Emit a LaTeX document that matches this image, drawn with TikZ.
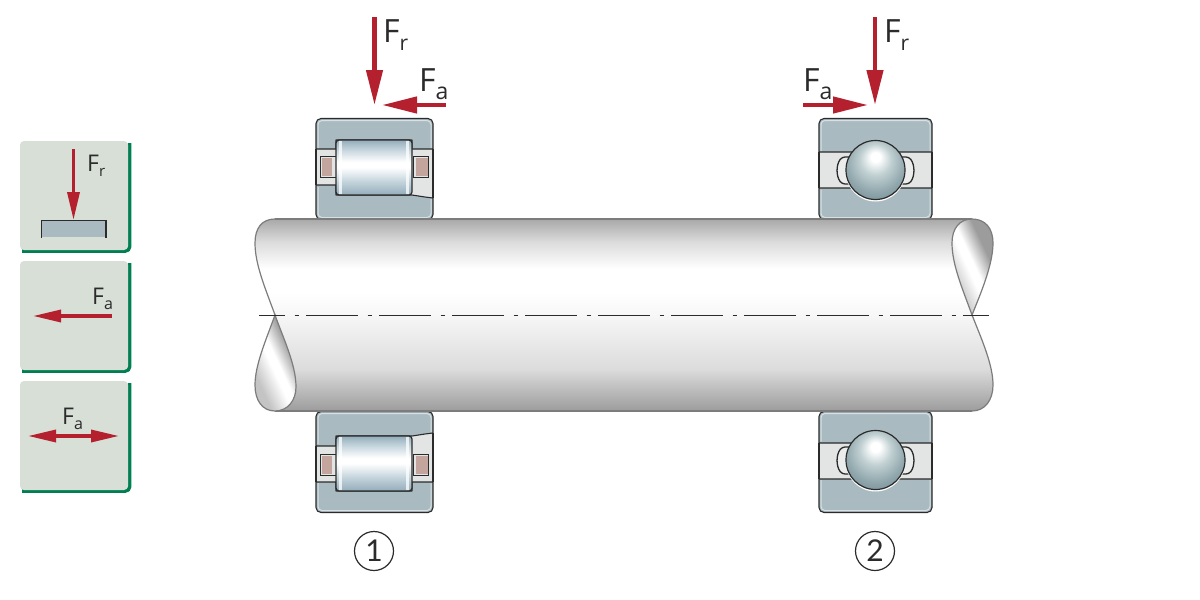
\documentclass[tikz,border=0pt]{standalone}
\usepackage{fontspec}
\setmainfont{Open Sans}
\newfontfamily\digitfont{Lato}
\usetikzlibrary{arrows.meta}
\definecolor{ringc}{HTML}{A9BBC1}
\definecolor{gapc}{HTML}{E3E4E4}
\definecolor{panelc}{HTML}{D7DFD7}
\definecolor{greenc}{HTML}{007F52}
\definecolor{redc}{HTML}{B4202E}
\definecolor{cagec}{HTML}{C4A59D}
\definecolor{inkc}{HTML}{2B2B2B}
\definecolor{shaftedge}{HTML}{7C7C7C}
\definecolor{rolA}{HTML}{93ADBA}
\definecolor{rolB}{HTML}{C7D6DE}
\definecolor{ballA}{HTML}{C2D1D3}
\definecolor{ballB}{HTML}{8FA6AC}
\definecolor{ballC}{HTML}{71878E}
\definecolor{gA}{HTML}{A8A8A8}
\definecolor{gB}{HTML}{DCDCDC}
\definecolor{gC}{HTML}{F7F7F7}
\definecolor{gD}{HTML}{9C9C9C}
\definecolor{gE}{HTML}{C4C4C4}
\pgfdeclareverticalshading{shaftshade}{100bp}{
  color(0bp)=(gD); color(25bp)=(gD);
  color(36bp)=(gB); color(50bp)=(gC); color(56bp)=(white); color(62bp)=(white);
  color(69bp)=(gB);
  color(75bp)=(gA); color(100bp)=(gA)}
\pgfdeclareverticalshading{rollershade}{100bp}{
  color(0bp)=(rolA); color(25bp)=(rolA);
  color(38bp)=(rolB); color(50bp)=(white); color(55bp)=(white);
  color(66bp)=(rolB);
  color(75bp)=(rolA); color(100bp)=(rolA)}
\pgfdeclareradialshading{ballshade}{\pgfpoint{0bp}{12bp}}{
  color(0bp)=(white); color(4bp)=(white); color(13bp)=(ballA);
  color(25bp)=(ballB); color(36bp)=(ballC); color(50bp)=(ballC)}
\pgfdeclarehorizontalshading{tearshade}{100bp}{
  color(0bp)=(gE); color(30bp)=(gE); color(46bp)=(white); color(52bp)=(white); color(66bp)=(gD); color(100bp)=(gD)}
\tikzset{
  x=1pt,y=-1pt,
  ringstyle/.style={fill=ringc,draw=inkc,line width=1.1pt,line join=round},
  edgeline/.style={draw=inkc,line width=1.1pt},
  redarrow/.style={draw=redc,line width=4.4pt,-{Triangle[length=35pt,width=16pt]}},
  smallarrow/.style={draw=redc,line width=3.4pt,-{Triangle[length=28pt,width=12pt]}},
  smallboth/.style={draw=redc,line width=3.4pt,{Triangle[length=28pt,width=12pt]}-{Triangle[length=28pt,width=12pt]}},
  bigtext/.style={anchor=base west,inner sep=0pt,text=inkc,font=\fontsize{32}{32}\selectfont},
  smalltext/.style={anchor=base west,inner sep=0pt,text=inkc,font=\fontsize{23}{23}\selectfont},
  numcircle/.style={circle,draw=inkc,line width=1.2pt,minimum size=39pt,inner sep=0pt,text=inkc,font=\digitfont\fontsize{30}{30}\selectfont},
  panelface/.style={fill=panelc,rounded corners=4pt},
  panelgreen/.style={draw=greenc,line width=3.5pt,rounded corners=4pt},
  shaftline/.style={draw=shaftedge,line width=1.2pt}
}
\newcommand{\subRb}[1]{\raisebox{-0.25em}{\fontsize{#1}{#1}\selectfont r}}
\newcommand{\subAb}[1]{\raisebox{-0.25em}{\fontsize{#1}{#1}\selectfont a}}
\newcommand{\rollerrings}{%
  \fill[gapc] (316,145) rectangle (433,200);
  \path[ringstyle] (316,149) -- (316,124) [rounded corners=5pt] -- (316,118.5) -- (433,118.5) [sharp corners] -- (433,149) -- (412,149) -- (412,140) -- (336,140) -- (336,149) -- cycle;
  \path[ringstyle] (316,185) [rounded corners=5pt] -- (316,219.5) -- (433,219.5) [sharp corners] -- (433,198) -- (425,197) -- (412,195) -- (336,195) -- (336,185) -- cycle;
  \draw[edgeline] (316,149) -- (316,185);
  \draw[edgeline] (433,149) -- (433,198);
  \draw[white,opacity=.55,line width=1pt,rounded corners=4pt] (318,148) -- (318,120.5) -- (431,120.5) -- (431,148);
  \draw[white,opacity=.55,line width=1pt,rounded corners=4pt] (318,187) -- (318,217.5) -- (431,217.5) -- (431,199);
  \path[fill=gapc,draw=inkc,line width=0.9pt] (320,156) rectangle (336,177);
  \path[fill=cagec] (321.5,157.5) rectangle (332,175.5);
  \path[fill=gapc,draw=inkc,line width=0.9pt] (413,156) rectangle (428.5,177);
  \path[fill=cagec] (415.5,157.5) rectangle (427.5,175.5);
}
\newcommand{\ballrings}{%
  \fill[gapc] (819,150) rectangle (932,190);
  \path[fill=gapc!70!white,draw=inkc,line width=1.3pt,rounded corners=3pt] (852,157) -- (842,157) .. controls (836,165) and (836,176) .. (842,184) -- (854,184) -- cycle;
  \path[fill=gapc!70!white,draw=inkc,line width=1.3pt,rounded corners=3pt] (899,157) -- (909,157) .. controls (915,165) and (915,176) .. (909,184) -- (897,184) -- cycle;
  \path[ringstyle] (819,152) [rounded corners=5pt] -- (819,118.5) -- (932,118.5) [sharp corners] -- (932,152) -- cycle;
  \path[ringstyle] (819,188) [rounded corners=5pt] -- (819,219.5) -- (932,219.5) [sharp corners] -- (932,188) -- cycle;
  \draw[edgeline] (819,152) -- (819,188);
  \draw[edgeline] (932,152) -- (932,188);
  \draw[white,opacity=.55,line width=1pt,rounded corners=4pt] (821,151) -- (821,120.5) -- (930,120.5) -- (930,151);
  \draw[white,opacity=.55,line width=1pt,rounded corners=4pt] (821,189.5) -- (821,217.5) -- (930,217.5) -- (930,189.5);
}
\newcommand{\rollerbody}[1]{%
  \path[shading=rollershade,rounded corners=3pt] (336,#1) rectangle (412,#1+55);
  \fill[white,opacity=.75] (339,#1+1) rectangle (342,#1+54);
  \fill[white,opacity=.75] (406,#1+1) rectangle (409,#1+54);
  \draw[inkc,line width=1.2pt,rounded corners=3pt] (336,#1) rectangle (412,#1+55);
}
\newcommand{\ballbody}[1]{%
  \fill[white] (875.5,#1+1.5) circle[radius=30];
  \path[shading=ballshade] (875.5,#1) circle[radius=29.5];
  \draw[inkc,line width=1.2pt] (875.5,#1) circle[radius=29.5];
}
\begin{document}
\begin{tikzpicture}
\useasboundingbox (0,0) rectangle (1200,600);
\fill[white] (0,0) rectangle (1200,600);

% side panels
\foreach \t in {141,261,381}{
  \draw[panelgreen] (22,\t+110) -- (129.5,\t+110) -- (129.5,\t+2);
  \path[panelface] (20,\t) rectangle (128,\t+109);
}

% panel 1
\path[fill=ringc] (41.7,221) rectangle (106,237);
\draw[edgeline] (41.7,237.5) -- (41.7,220.7) -- (106,220.7) -- (106,237.5);
\coordinate (p1a) at (73.5,149);
\coordinate (p1b) at (73.5,220);
\draw[smallarrow] (p1a) -- (p1b);
\node[smalltext] (p1t) at (87,171) {F\subRb{15pt}};
% panel 2
\coordinate (p2a) at (112,316);
\coordinate (p2b) at (33,316);
\draw[smallarrow] (p2a) -- (p2b);
\node[smalltext] (p2t) at (92,304) {F\subAb{16pt}};
% panel 3
\coordinate (p3a) at (28,436);
\coordinate (p3b) at (119,436);
\draw[smallboth] (p3a) -- (p3b);
\node[smalltext] (p3t) at (62,424) {F\subAb{16pt}};

% bearings: rings
\rollerrings
\begin{scope}[shift={(0,631)},yscale=-1]
\rollerrings
\end{scope}
\ballrings
\begin{scope}[shift={(0,631)},yscale=-1]
\ballrings
\end{scope}
\rollerbody{140}
\rollerbody{436}
\ballbody{170}
\ballbody{460}

% shaft
\path[shading=shaftshade] (275,219) -- (972,219) .. controls (985,219) and (993,228) .. (993,243) .. controls (993,265) and (980,295) .. (972,315) .. controls (982,340) and (993,365) .. (993,385) .. controls (993,400) and (985,411) .. (972,411) -- (275,411) .. controls (262,411) and (255,400) .. (255,385) .. controls (255,365) and (266,340) .. (275,315) .. controls (266,290) and (255,265) .. (255,243) .. controls (255,228) and (262,219) .. (275,219) -- cycle;
\draw[shaftline] (275,219) -- (972,219);
\draw[shaftline] (275,411) -- (972,411);
\draw[shaftline] (972,315) .. controls (982,340) and (993,365) .. (993,385) .. controls (993,400) and (985,411) .. (972,411);
\draw[shaftline] (275,315) .. controls (266,290) and (255,265) .. (255,243) .. controls (255,228) and (262,219) .. (275,219);
\path[shaftline,shading=tearshade,shading angle=25] (275,315) .. controls (266,340) and (255,365) .. (255,385) .. controls (255,400) and (262,411) .. (275,411) .. controls (288,411) and (296,400) .. (296,387) .. controls (296,365) and (284,340) .. (275,315) -- cycle;
\path[shaftline,shading=tearshade,shading angle=25] (972,315) .. controls (963,290) and (952,265) .. (952,243) .. controls (952,228) and (960,219) .. (972,219) .. controls (985,219) and (993,228) .. (993,243) .. controls (993,265) and (980,295) .. (972,315) -- cycle;

% centre line
\coordinate (cla) at (259,315.5);
\coordinate (clb) at (989,315.5);
\draw[inkc,line width=1pt,dash pattern=on 52pt off 9.5pt on 4pt off 7.5pt,dash phase=26pt] (cla) -- (clb);

% main forces
\coordinate (f1a) at (374.5,17);
\coordinate (f1b) at (374.5,105);
\draw[redarrow] (f1a) -- (f1b);
\coordinate (f2a) at (446,105);
\coordinate (f2b) at (382,105);
\draw[redarrow] (f2a) -- (f2b);
\coordinate (f3a) at (803,105);
\coordinate (f3b) at (868,105);
\draw[redarrow] (f3a) -- (f3b);
\coordinate (f4a) at (875,17);
\coordinate (f4b) at (875,105);
\draw[redarrow] (f4a) -- (f4b);
\node[bigtext] (t1) at (383,42) {F\subRb{21pt}};
\node[bigtext] (t2) at (419,91) {F\subAb{23pt}};
\node[bigtext] (t3) at (803,91) {F\subAb{23pt}};
\node[bigtext] (t4) at (884,42) {F\subRb{21pt}};

% position numbers
\node[numcircle] (n1) at (374,551) {1};
\node[numcircle] (n2) at (875,551) {2};
\end{tikzpicture}
\end{document}
